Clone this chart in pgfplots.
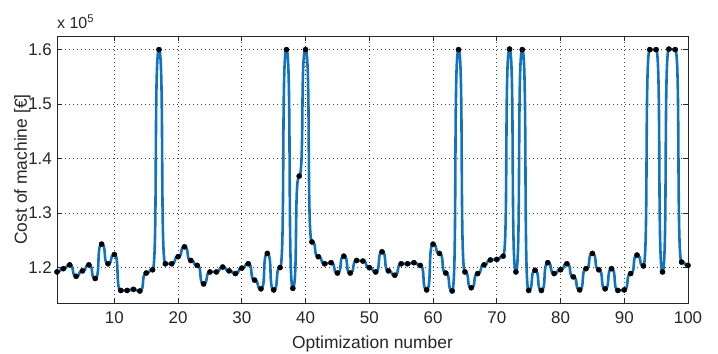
\documentclass[border=0pt]{standalone}
\usepackage{fontspec}
\setmainfont{Liberation Sans}
\usepackage{pgfplots}
\pgfplotsset{compat=1.18}
\usepackage{pgfplotstable}
\definecolor{mblue}{rgb}{0.06,0.45,0.75}
\definecolor{axgray}{rgb}{0.15,0.15,0.15}
% plot handler: joins successive data points by cubic segments with
% horizontal tangents at the data points (pchip-like look)
\makeatletter
\def\pgfplothandlerhtan{%
  \def\pgf@plotstreamstart{%
    \global\let\pgf@plotstreampoint=\pgf@plot@htan@first
    \global\let\pgf@plotstreamspecial=\@gobble
    \global\let\pgf@plotstreamend=\relax
  }%
}
\def\pgf@plot@htan@first#1{%
  \pgf@process{#1}%
  \xdef\htan@lx{\the\pgf@x}\xdef\htan@ly{\the\pgf@y}%
  \pgf@plot@first@action{\pgfqpoint{\htan@lx}{\htan@ly}}%
  \global\let\pgf@plotstreampoint=\pgf@plot@htan@next
}
\def\pgf@plot@htan@next#1{%
  \pgf@process{#1}%
  \edef\htan@cx{\the\pgf@x}\edef\htan@cy{\the\pgf@y}%
  \pgf@xa=\htan@lx\relax \advance\pgf@xa by -\htan@cx\relax
  \pgf@xb=\htan@cx\relax \advance\pgf@xb by 0.8\pgf@xa
  \edef\htan@ax{\the\pgf@xb}%
  \pgf@xb=\htan@lx\relax \advance\pgf@xb by -0.8\pgf@xa
  \edef\htan@bx{\the\pgf@xb}%
  \pgfpathcurveto{\pgfqpoint{\htan@bx}{\htan@ly}}{\pgfqpoint{\htan@ax}{\htan@cy}}{\pgfqpoint{\htan@cx}{\htan@cy}}%
  \xdef\htan@lx{\htan@cx}\xdef\htan@ly{\htan@cy}%
}
\tikzset{htan/.code={\let\tikz@plot@handler=\pgfplothandlerhtan}}
\makeatother
% cost in units of 10^5 EUR
\pgfplotstableread{
x y
1 1.192
2 1.198
3 1.205
4 1.184
5 1.194
6 1.205
7 1.180
8 1.243
9 1.207
10 1.224
11 1.158
12 1.158
13 1.160
14 1.157
15 1.190
16 1.196
17 1.600
18 1.207
19 1.207
20 1.220
21 1.238
22 1.213
23 1.204
24 1.170
25 1.192
26 1.192
27 1.201
28 1.194
29 1.189
30 1.199
31 1.207
32 1.177
33 1.161
34 1.226
35 1.159
36 1.200
37 1.600
38 1.162
39 1.368
40 1.600
41 1.247
42 1.220
43 1.207
44 1.209
45 1.190
46 1.221
47 1.190
48 1.213
49 1.212
50 1.200
51 1.192
52 1.229
53 1.194
54 1.186
55 1.207
56 1.207
57 1.209
58 1.204
59 1.159
60 1.243
61 1.226
62 1.190
63 1.157
64 1.600
65 1.192
66 1.163
67 1.189
68 1.205
69 1.214
70 1.215
71 1.221
72 1.601
73 1.192
74 1.600
75 1.158
76 1.195
77 1.158
78 1.209
79 1.189
80 1.196
81 1.207
82 1.183
83 1.159
84 1.198
85 1.226
86 1.196
87 1.161
88 1.198
89 1.158
90 1.159
91 1.189
92 1.223
93 1.203
94 1.600
95 1.600
96 1.192
97 1.601
98 1.600
99 1.210
100 1.204
}\costdata
\begin{document}
\begin{tikzpicture}
\useasboundingbox (-57bp,-51bp) rectangle (661bp,303bp);
\begin{axis}[
  name=ax,
  at={(0,0)}, anchor=south west,
  scale only axis, width=631bp, height=267bp,
  xmin=1, xmax=100, ymin=1.135, ymax=1.625,
  xtick={10,20,...,100},
  ytick={1.2,1.3,1.4,1.5,1.6},
  scaled y ticks=false,
  /pgf/number format/assume math mode=true,
  yticklabel style={/pgf/number format/fixed, /pgf/number format/fixed zerofill, /pgf/number format/precision=1},
  every tick label/.append style={font=\fontsize{17}{20}\selectfont, text=axgray},
  xticklabel style={anchor=base, inner sep=0pt, yshift=-20bp},
  yticklabel style={anchor=east, inner sep=0pt, xshift=-5bp},
  xlabel={Optimization number},
  ylabel={Cost of machine [€]},
  label style={font=\fontsize{17.5}{20}\selectfont, text=axgray},
  xlabel style={at={([yshift=-45bp]rel axis cs:0.5,0)}, anchor=base, inner sep=0pt},
  ylabel style={at={([xshift=-30bp]rel axis cs:0,0.5)}, anchor=base, inner sep=0pt},
  grid=major,
  major grid style={black!75, dash pattern=on 1bp off 3bp, line width=0.8bp},
  tick align=inside, xtick pos=both, ytick pos=both,
  major tick length=5bp,
  tick style={axgray, line width=0.8bp},
  axis line style={axgray, line width=0.9bp},
]
\addplot[only marks, mark=*, mark size=2.6bp, black] table {\costdata};
\addplot[mblue, line width=2.6bp, line join=round, line cap=round, no marks, htan] table {\costdata};
\end{axis}
\node[anchor=base west, inner sep=0pt, font=\fontsize{16}{18}\selectfont, text=axgray] at ([yshift=7bp]ax.north west) {x 10\textsuperscript{5}};
\end{tikzpicture}
\end{document}
